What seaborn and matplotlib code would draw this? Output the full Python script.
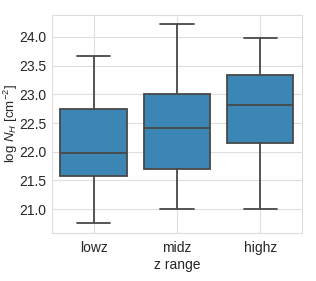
import matplotlib
matplotlib.use("Agg")
import matplotlib.pyplot as plt
import seaborn as sns
import pandas as pd

sns.set_style("whitegrid")
plt.rcParams['font.family'] = ['Liberation Sans', 'DejaVu Sans']
plt.rcParams['mathtext.fontset'] = 'custom'
plt.rcParams['mathtext.rm'] = 'Liberation Sans'
plt.rcParams['mathtext.it'] = 'Liberation Sans:italic'

# five-number summaries: min, q1, median, q3, max
z_ranges = ["lowz", "midz", "highz"]
lowz_vals = [20.75, 21.57, 21.98, 22.74, 23.66]
midz_vals = [21.01, 21.70, 22.41, 23.00, 24.23]
highz_vals = [21.00, 22.15, 22.81, 23.33, 23.98]

df = pd.DataFrame({
    "z range": [z for z, v in zip(z_ranges, [lowz_vals, midz_vals, highz_vals]) for _ in v],
    "logNH": lowz_vals + midz_vals + highz_vals,
})

fig, ax = plt.subplots(figsize=(3.16, 2.81), dpi=100)
sns.boxplot(data=df, x="z range", y="logNH", order=z_ranges, color="#3b86b5",
            saturation=1, width=0.8, whis=(0, 100), linecolor="#484848",
            linewidth=1.3, ax=ax)

ax.set_ylim(20.58, 24.39)
ax.set_yticks([21.0, 21.5, 22.0, 22.5, 23.0, 23.5, 24.0])
ax.set_yticklabels(["21.0", "21.5", "22.0", "22.5", "23.0", "23.5", "24.0"])
ax.set_xlabel("z range", fontsize=10, labelpad=2)
ax.set_ylabel(r"log $N_H$ [cm$^{-2}$]", fontsize=9.5)
ax.yaxis.set_label_coords(-0.128, 0.5)
ax.tick_params(axis="y", labelsize=10, pad=0.5)
ax.tick_params(axis="x", labelsize=10, pad=2)
ax.grid(color="#dedede")
for s in ax.spines.values():
    s.set_color("#dddddd")

plt.subplots_adjust(left=0.165, right=0.955, top=0.948, bottom=0.17)
plt.savefig("out.png", dpi=100)
